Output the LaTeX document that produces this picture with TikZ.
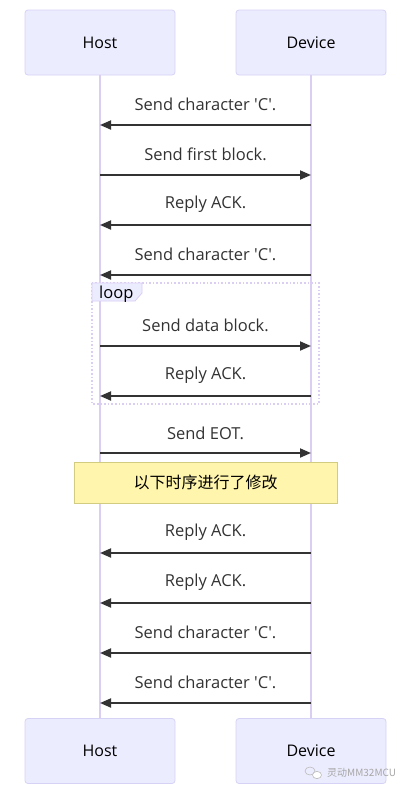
\documentclass[tikz,border=0pt]{standalone}
\usepackage{fontspec}
\setmainfont{Open Sans}[Ligatures=TeXOff]
\newfontfamily\cjk{Noto Sans CJK SC}
\usetikzlibrary{arrows.meta}
\definecolor{actfill}{HTML}{ECECFF}
\definecolor{actdraw}{HTML}{D6D2F6}
\definecolor{lifecol}{HTML}{DACEF3}
\definecolor{msgcol}{HTML}{333333}
\definecolor{notefill}{HTML}{FFF5AD}
\definecolor{notedraw}{HTML}{D2CC80}
\begin{document}
\begin{tikzpicture}[x=1pt,y=-1pt,
  actor/.style={draw=actdraw,fill=actfill,rounded corners=3pt,minimum width=150pt,minimum height=65pt,inner sep=0pt,line width=0.8pt,font=\fontsize{16}{19}\selectfont,text=black},
  lifeline/.style={draw=lifecol,line width=1.6pt},
  msg/.style={draw=msgcol,line width=1.8pt,-{Triangle[length=11pt,width=9pt]}},
  msglabel/.style={font=\fontsize{16.5}{19}\selectfont,text=msgcol,inner sep=0pt},
  notebox/.style={draw=notedraw,fill=notefill,line width=0.9pt,minimum width=263pt,minimum height=41pt,inner sep=0pt,font=\cjk\fontsize{16}{19}\selectfont,text=black}]
\useasboundingbox (0,0) rectangle (409,793);
\fill[white] (0,0) rectangle (409,793);
% actors
\node[actor] (hostT) at (100,42.5) {Host};
\node[actor] (devT) at (311,42.5) {Device};
\node[actor] (hostB) at (100,751) {Host};
\node[actor] (devB) at (311,751) {Device};
\draw[lifeline] (hostT.south) -- (hostB.north);
\draw[lifeline] (devT.south) -- (devB.north);
% loop frame
\draw[lifecol,line width=1.6pt,dotted] (92,283) rectangle (319,404);
\filldraw[fill=actfill,draw=lifecol,line width=0.8pt] (92,283) -- (142,283) -- (142,293) -- (135,301) -- (92,301) -- cycle;
\node[msglabel,anchor=west,text=black] (looplbl) at (99,294) {loop};
% note
\node[notebox] (note) at (205.5,482.5) {以下时序进行了修改};
% message coordinates
\foreach \i/\y in {1/125,2/175,3/225,4/275,5/346,6/396,7/453,8/553,9/603,10/653,11/703}{
  \coordinate (h\i) at (100,\y);
  \coordinate (d\i) at (311,\y);
}
\draw[msg] (d1) -- (h1);
\draw[msg] (h2) -- (d2);
\draw[msg] (d3) -- (h3);
\draw[msg] (d4) -- (h4);
\draw[msg] (h5) -- (d5);
\draw[msg] (d6) -- (h6);
\draw[msg] (h7) -- (d7);
\draw[msg] (d8) -- (h8);
\draw[msg] (d9) -- (h9);
\draw[msg] (d10) -- (h10);
\draw[msg] (d11) -- (h11);
% labels
\node[msglabel] (l1) at (205.5,104) {Send character 'C'.};
\node[msglabel] (l2) at (205.5,154) {Send first block.};
\node[msglabel] (l3) at (205.5,204) {Reply ACK.};
\node[msglabel] (l4) at (205.5,254) {Send character 'C'.};
\node[msglabel] (l5) at (205.5,325) {Send data block.};
\node[msglabel] (l6) at (205.5,375) {Reply ACK.};
\node[msglabel] (l7) at (205.5,433) {Send EOT.};
\node[msglabel] (l8) at (205.5,532) {Reply ACK.};
\node[msglabel] (l9) at (205.5,582) {Reply ACK.};
\node[msglabel] (l10) at (205.5,632) {Send character 'C'.};
\node[msglabel] (l11) at (205.5,682) {Send character 'C'.};
% watermark
\draw[gray!55,line width=0.6pt] (310,771) ellipse (5pt and 4pt);
\draw[gray!55,line width=0.6pt,fill=white] (317,775) ellipse (4.5pt and 3.6pt);
\node[font=\cjk\fontsize{10}{12}\selectfont,text=gray!70,anchor=west,inner sep=0pt] (wm) at (327,773) {灵动MM32MCU};
\end{tikzpicture}
\end{document}
